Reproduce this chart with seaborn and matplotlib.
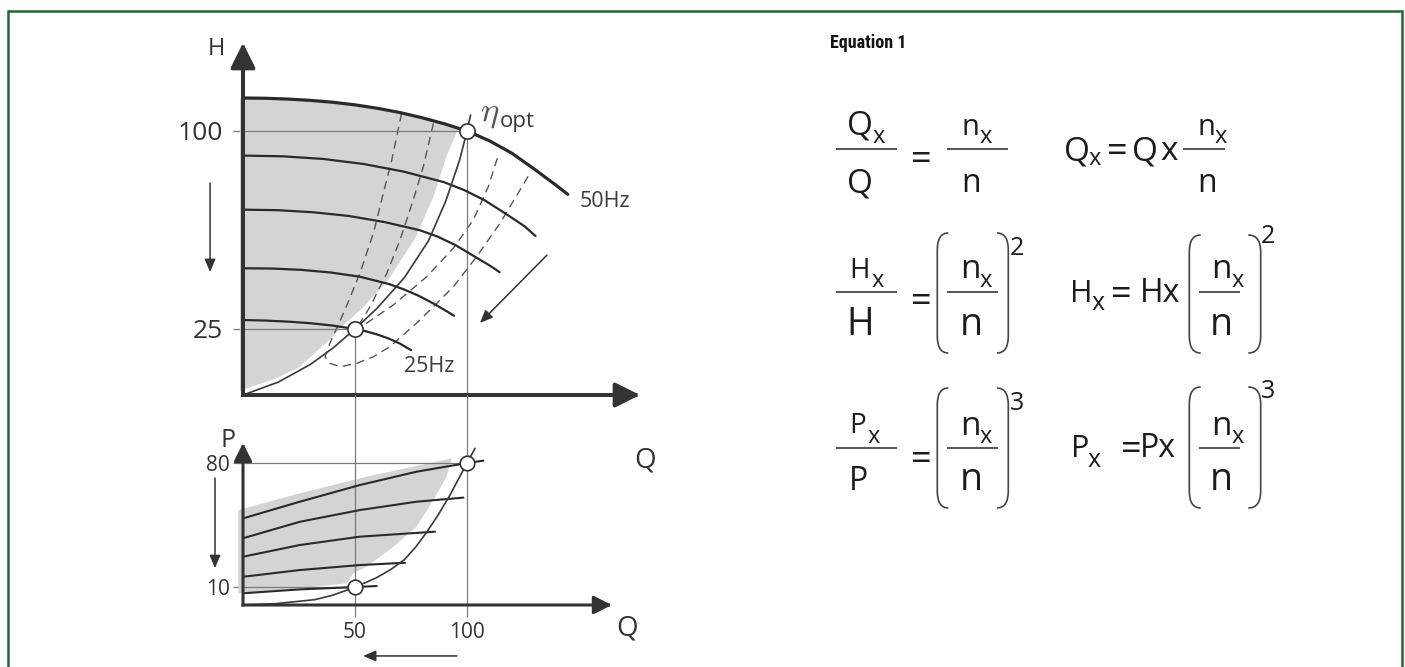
import matplotlib
matplotlib.use('Agg')
import matplotlib.pyplot as plt
import seaborn as sns
from matplotlib.path import Path
from matplotlib.patches import PathPatch

# ---- H-Q diagram: pump curves at falling speed (Q and H in % of nominal)
q_50hz = [0, 10, 20, 30, 40, 50, 60, 70, 80, 90, 100, 110, 120, 130, 140, 145]
h_50hz = [112.5, 112.4, 112.1, 111.6, 110.9, 109.9, 108.6, 107.0, 105.0, 102.7, 100.0,
          96.3, 91.6, 85.6, 79.3, 76.0]
q_45hz = [0, 18, 35.9, 53.9, 71.8, 89.8, 98.8, 107.8, 116.7, 125.7, 130.6]
h_45hz = [90.7, 90.4, 89.4, 87.5, 84.6, 80.6, 77.6, 73.8, 69.0, 63.9, 60.2]
q_40hz = [0, 15.8, 31.6, 47.4, 63.2, 79, 86.9, 94.8, 102.7, 110.6, 114.6]
h_40hz = [70.2, 70.0, 69.2, 67.8, 65.5, 62.4, 60.0, 56.8, 52.8, 48.8, 46.5]
q_33hz = [0, 13.1, 26.1, 39.2, 52.2, 65.3, 71.8, 78.4, 84.9, 91.4, 94.2]
h_33hz = [48.0, 47.9, 47.4, 46.4, 44.8, 42.0, 40.0, 37.6, 34.7, 31.5, 30.0]
q_25hz = [0, 10, 20, 30, 40, 50, 55, 60, 65, 70, 75]
h_25hz = [28.4, 28.2, 27.8, 27.2, 26.3, 25.0, 24.1, 22.9, 21.4, 19.5, 17.0]

# system curve through the operating points
q_sys = [0, 15.8, 30.1, 40.2, 50, 59.8, 72, 82.8, 90.5, 96.7, 100, 101.6]
h_sys = [0, 4.9, 11.6, 17.8, 25, 32.8, 44.4, 58.4, 73.4, 89.0, 100, 106]

# iso-efficiency loops (dashed)
q_eff_outer = [70.8, 66.4, 61.9, 58.2, 52.2, 45.5, 38.8, 36.6, 38.8, 43.3, 50.8, 58.2,
               65.6, 79.0, 93.9, 104.3, 114.7, 123.7, 128.1]
h_eff_outer = [106.7, 89.0, 73.9, 61.3, 46.1, 32.2, 19.6, 14.5, 12.0, 10.7, 12.0, 14.5,
               18.3, 28.4, 41.0, 52.4, 65.0, 77.7, 84.0]
q_eff_inner = [85.0, 80.5, 76.0, 70.1, 64.2, 56.7, 52.2, 53.6, 55.2, 67.1, 82.0, 93.9,
               102.8, 109.5, 114.0]
h_eff_inner = [102.9, 86.5, 73.9, 58.7, 46.1, 33.4, 27.2, 26.1, 27.2, 34.1, 44.8, 55.6,
               66.3, 78.9, 90.9]

# shaded working area (right edge, top follows the 50Hz curve)
q_band_edge = [97, 95.4, 90.9, 85, 76.8, 64.5, 53.8, 45.9, 38.7, 30.1, 24.5, 14.5, 1.6, -1.3]
h_band_edge = [101.2, 99.7, 90.5, 75.1, 59.3, 43.2, 33.4, 27.3, 21.0, 14.4, 10.2, 6.2, 2.5, 1.5]

q_points = [50, 100]
h_points = [25, 100]
h_ticks = [25, 100]

# ---- P-Q diagram
q_p1 = [0, 25.4, 52.2, 77.5, 100, 107.3]
p_p1 = [48.8, 58.2, 67.6, 75.1, 80, 81.3]
q_p2 = [0, 25.4, 52.2, 77.5, 98.4]
p_p2 = [37.6, 46.9, 53.5, 58.2, 60.5]
q_p3 = [0, 25.4, 52.2, 85.7]
p_p3 = [27.2, 33.8, 38.5, 41.3]
q_p4 = [0, 25.4, 52.2, 72.3]
p_p4 = [15.9, 19.7, 22.5, 23.8]
q_p5 = [0, 25.4, 50, 59.7]
p_p5 = [6.6, 8.8, 10.1, 10.7]
q_psys = [0, 15, 32, 40, 50, 59.5, 66, 72, 77, 82, 87, 92.2, 96, 100, 103.6]
p_psys = [0, 0.8, 3.0, 5.5, 10, 15.3, 20, 25.5, 32.5, 41, 50.5, 61.5, 70.5, 80, 88.3]
q_pband = [-2.1, 25.4, 55.2, 93.2, 90.9, 85.0, 77.5, 67.1, 55.2, 49.2, 46.3, 25.4, -2.1]
p_pband = [53.5, 62.9, 72.3, 82.6, 72.3, 59.2, 44.1, 32.8, 21.6, 17.9, 12.2, 9.4, 6.6]
p_points = [10, 80]
p_ticks = [10, 80]
q_ticks = [50, 100]

W, H = 1405, 667
INK = '#2a2a2a'
GRID = '#7a7a7a'
FILL = '#d4d4d4'

sns.set_theme(style='white')
plt.rcParams['font.family'] = ['Open Sans', 'DejaVu Sans']

fig = plt.figure(figsize=(W / 100, H / 100), dpi=100)

# overlay in pixel units for the frame, labels and the equations
ov = fig.add_axes([0, 0, 1, 1])
ov.set_xlim(0, W)
ov.set_ylim(H, 0)
ov.axis('off')
ov.plot([7.5, 7.5, 1402, 1402], [H, 10.5, 10.5, H], color='#226633', lw=1.8,
        solid_joinstyle='miter')

# upper chart: 2.24 px per % flow, 2.64 px per % head
ax1 = fig.add_axes([243 / W, 1 - 395 / H, 397 / W, 352 / H])
ax1.set_xlim(0, 397 / 2.24)
ax1.set_ylim(0, 352 / 2.64)
ax1.patch.set_alpha(0)

top = [(q, h) for q, h in zip(q_50hz, h_50hz) if q < q_band_edge[0]]
band_q = [-1.3] + [q for q, h in top] + q_band_edge
band_h = [h_50hz[0]] + [h for q, h in top] + h_band_edge
ax1.fill(band_q, band_h, color=FILL, lw=0, zorder=1, clip_on=False)

for qq, hh in [(q_eff_outer, h_eff_outer), (q_eff_inner, h_eff_inner)]:
    sns.lineplot(x=qq, y=hh, ax=ax1, sort=False, estimator=None, color='#555555',
                 lw=1.0, linestyle=(0, (6, 4)), zorder=2)

ax1.plot([0, q_points[1]], [h_points[1], h_points[1]], color=GRID, lw=0.9, zorder=2)
ax1.plot([0, q_points[0]], [h_points[0], h_points[0]], color=GRID, lw=0.9, zorder=2)
for q, h in zip(q_points, h_points):
    ax1.plot([q, q], [0, h], color=GRID, lw=0.9, zorder=2)

sns.lineplot(x=q_50hz, y=h_50hz, ax=ax1, sort=False, estimator=None, color=INK, lw=2.3, zorder=3)
for qq, hh in [(q_45hz, h_45hz), (q_40hz, h_40hz), (q_33hz, h_33hz), (q_25hz, h_25hz)]:
    sns.lineplot(x=qq, y=hh, ax=ax1, sort=False, estimator=None, color=INK, lw=1.6, zorder=3)
sns.lineplot(x=q_sys, y=h_sys, ax=ax1, sort=False, estimator=None, color='#3a3a3a', lw=1.2, zorder=3)
sns.scatterplot(x=q_points, y=h_points, ax=ax1, s=120, color='white', edgecolor='#333333',
                linewidth=1.2, zorder=5, clip_on=False)

sns.despine(ax=ax1, left=True, bottom=True)
ax1.set_xticks([])
ax1.set_yticks(h_ticks)
ax1.set_yticklabels([str(t) for t in h_ticks])
ax1.tick_params(axis='y', left=True, length=7.2, width=0.9, color=GRID, pad=7,
                labelsize=19, labelcolor='#333333')

axis_arrow = dict(arrowstyle='-|>,head_length=1.0,head_width=0.5', mutation_scale=15,
                  lw=2.9, color='#333333', shrinkA=0, shrinkB=0, capstyle='projecting')
ax1.annotate('', xy=(0, 1), xytext=(0, 0), xycoords='axes fraction', arrowprops=axis_arrow)
ax1.annotate('', xy=(1, 0), xytext=(0, 0), xycoords='axes fraction', arrowprops=axis_arrow)

small_arrow = dict(arrowstyle='-|>,head_length=0.7,head_width=0.3', mutation_scale=11,
                   lw=1.1, color='#333333', shrinkA=0, shrinkB=0)
ax1.annotate('', xy=(-14.7, 46.6), xytext=(-14.7, 80.3), arrowprops=small_arrow,
             annotation_clip=False)
ax1.annotate('', xy=(105.8, 27.3), xytext=(135.7, 53.0), arrowprops=small_arrow,
             annotation_clip=False)

ax1.text(150.4, 71.3, '50Hz', fontsize=15.5, color='#3c3c3c', va='baseline', clip_on=False)
ax1.text(71.9, 8.8, '25Hz', fontsize=15.5, color='#3c3c3c', va='baseline', clip_on=False)
ax1.text(106.0, 103.8, r'$\eta$', fontsize=25, color='#555555', va='baseline',
         math_fontfamily='cm', clip_on=False)
ax1.text(114.5, 101.5, 'opt', fontsize=16, color='#3c3c3c', va='baseline', clip_on=False)

# lower chart: 2.24 px per % flow, 1.775 px per % power
ax2 = fig.add_axes([243 / W, 1 - 605 / H, 369 / W, 162 / H])
ax2.set_xlim(0, 369 / 2.24)
ax2.set_ylim(0, 162 / 1.775)
ax2.patch.set_alpha(0)

ax2.fill(q_pband, p_pband, color=FILL, lw=0, zorder=1, clip_on=False)
ax2.plot([0, q_points[1]], [p_points[1], p_points[1]], color=GRID, lw=0.9, zorder=2)
ax2.plot([0, q_points[0]], [p_points[0], p_points[0]], color=GRID, lw=0.9, zorder=2)
for q in q_points:
    ax2.plot([q, q], [0, 210 / 1.775], color=GRID, lw=0.9, zorder=2, clip_on=False)

for qq, pp in [(q_p1, p_p1), (q_p2, p_p2), (q_p3, p_p3), (q_p4, p_p4), (q_p5, p_p5)]:
    sns.lineplot(x=qq, y=pp, ax=ax2, sort=False, estimator=None, color=INK, lw=1.5, zorder=3)
sns.lineplot(x=q_psys, y=p_psys, ax=ax2, sort=False, estimator=None, color='#3a3a3a', lw=1.2,
             zorder=3, clip_on=False)
sns.scatterplot(x=q_points, y=p_points, ax=ax2, s=110, color='white', edgecolor='#333333',
                linewidth=1.2, zorder=5, clip_on=False)

sns.despine(ax=ax2, left=True, bottom=True)
ax2.set_xticks(q_ticks)
ax2.set_xticklabels([str(t) for t in q_ticks])
ax2.set_yticks(p_ticks)
ax2.set_yticklabels([str(t) for t in p_ticks])
ax2.tick_params(axis='y', left=True, length=7.2, width=0.9, color=GRID, pad=2,
                labelsize=15, labelcolor='#333333')
ax2.tick_params(axis='x', bottom=True, length=8.6, width=0.9, color=GRID, pad=4,
                labelsize=15, labelcolor='#333333')

axis_arrow2 = dict(axis_arrow, lw=2.2, mutation_scale=11)
ax2.annotate('', xy=(0, 1), xytext=(0, 0), xycoords='axes fraction', arrowprops=axis_arrow2)
ax2.annotate('', xy=(1, 0), xytext=(0, 0), xycoords='axes fraction', arrowprops=axis_arrow2)
ax2.annotate('', xy=(-12.5, 20.8), xytext=(-12.5, 71.5), arrowprops=small_arrow,
             annotation_clip=False)
ax2.annotate('', xy=(53.6, -28.7), xytext=(95.5, -28.7), arrowprops=small_arrow,
             annotation_clip=False)

# axis names
for s, x, y, fs in [('H', 216, 55, 17), ('Q', 645, 467, 20), ('P', 228, 446.7, 18),
                    ('Q', 626.7, 635, 20)]:
    ov.text(x, y, s, fontsize=fs, color='#333333', ha='center', va='baseline')

# ---- Equation 1 (affinity laws)
ov.text(830, 48, 'Equation 1', fontsize=13, fontweight='bold', color='#111111',
        family=['Roboto Condensed', 'Liberation Sans Narrow', 'Roboto'], va='baseline')

glyphs = [
    ('Q', 860, 134, 24), ('x', 879, 143, 17), ('Q', 860, 192, 24), ('=', 921, 169.7, 26),
    ('n', 970.8, 135, 21), ('x', 985.5, 143, 17), ('n', 970.8, 192, 23),
    ('Q', 1077, 160, 24), ('x', 1094.5, 165, 17), ('=', 1117.5, 162, 26),
    ('Q', 1145, 160, 24), ('x', 1169, 160, 24),
    ('n', 1206.7, 135, 21), ('x', 1221, 143, 17), ('n', 1206.7, 192, 23),
    ('H', 860, 278.3, 20), ('x', 877.5, 286.7, 17), ('H', 860, 335, 27), ('=', 921, 312, 26),
    ('n', 970.8, 278.3, 24), ('x', 985.5, 286.7, 17), ('n', 970.8, 335, 27), ('2', 1016.7, 255, 18),
    ('H', 1081, 301.7, 22), ('x', 1098, 310, 18), ('=', 1121.7, 305.3, 26), ('Hx', 1160, 301.7, 23),
    ('n', 1221.7, 278.3, 24), ('x', 1237.5, 286.7, 17), ('n', 1221.7, 335, 27), ('2', 1268.3, 242.7, 18),
    ('P', 858, 433.3, 20), ('x', 873.5, 443.3, 17), ('P', 858, 490, 23), ('=', 921, 469.7, 26),
    ('n', 970.8, 435, 24), ('x', 985.5, 443.3, 17), ('n', 970.8, 490, 27), ('3', 1016.7, 410, 18),
    ('P', 1080, 456.7, 22), ('x', 1094.5, 466.7, 18), ('=', 1131.7, 460.3, 26), ('Px', 1158.3, 456.7, 23),
    ('n', 1221.7, 435, 24), ('x', 1237.5, 443.3, 17), ('n', 1221.7, 490, 27), ('3', 1268.3, 398.3, 18),
]
for s, x, y, fs in glyphs:
    ov.text(x, y, s, fontsize=fs, color='#1c1c1c', ha='center', va='baseline')

bars = [(836, 897.3, 149), (946.7, 1008.3, 149), (1183.3, 1225, 149),
        (836, 897.3, 291.7), (946.7, 998.3, 291.7), (1199.3, 1240, 291.7),
        (836, 897.3, 448.3), (946.7, 998.3, 448.3), (1199.3, 1240, 448.3)]
for x0, x1, y in bars:
    ov.plot([x0, x1], [y, y], color='#555555', lw=1.4, solid_capstyle='butt')

parens = [(937.3, 948.3, 233, 353), (1008.3, 997, 233, 353),
          (1189.3, 1200.7, 235, 353), (1260.7, 1248.3, 235, 353),
          (937.3, 948.3, 388, 508), (1008.3, 997, 388, 508),
          (1189.3, 1200.7, 387, 508), (1260.7, 1248.3, 387, 508)]
for xo, xi, t, b in parens:
    verts = [(xi, t), (xo, t), (xo, t + 17), (xo, b - 17), (xo, b), (xi, b)]
    codes = [Path.MOVETO, Path.CURVE3, Path.CURVE3, Path.LINETO, Path.CURVE3, Path.CURVE3]
    ov.add_patch(PathPatch(Path(verts, codes), fill=False, lw=1.2, ec='#444444'))

fig.savefig('out.png', dpi=100)
